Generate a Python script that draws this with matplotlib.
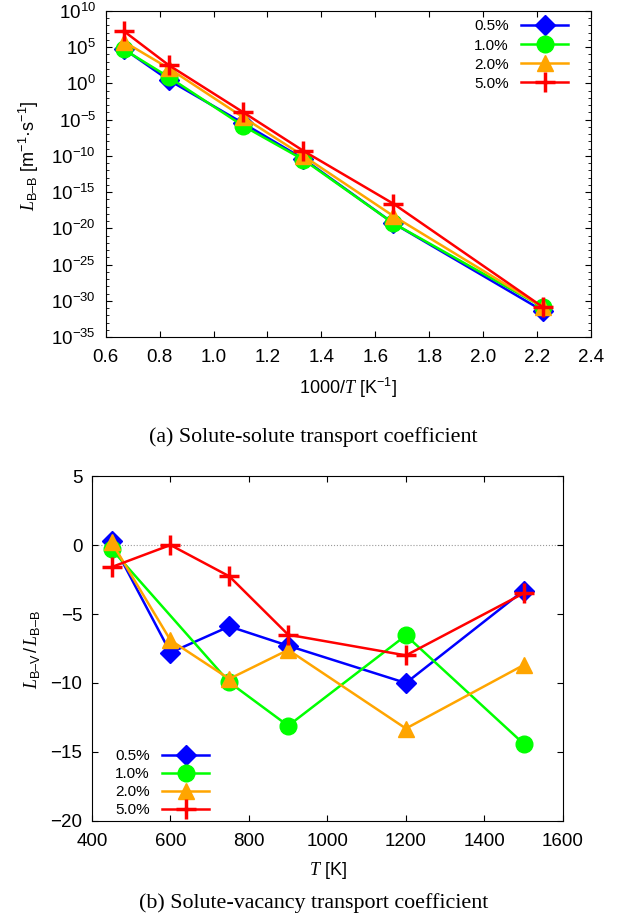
"""Transport coefficients vs temperature, two stacked panels"""
import numpy as np
import matplotlib
matplotlib.use("Agg")
import matplotlib.pyplot as plt
from matplotlib.ticker import FixedLocator, LogFormatterSciNotation, FormatStrFormatter, NullFormatter

plt.rcParams['font.family'] = ['Liberation Sans', 'DejaVu Sans']
plt.rcParams['mathtext.fontset'] = 'custom'
plt.rcParams['mathtext.rm'] = 'Liberation Sans'
plt.rcParams['mathtext.it'] = 'Liberation Serif:italic'
plt.rcParams['mathtext.default'] = 'regular'

labels = ['0.5%', '1.0%', '2.0%', '5.0%']
colors = ['#0000ff', '#00ff00', '#ffa500', '#ff0000']
markers = ['D', 'o', '^', '+']
msizes = [10, 12, 12, 15]

# panel (a): L_B-B vs 1000/T
inv_T = [0.667, 0.833, 1.111, 1.333, 1.667, 2.222]
lbb_05 = [6e4, 3e0, 3e-6, 4e-11, 5e-20, 4e-32]
lbb_10 = [5e4, 8e0, 1.3e-6, 3e-11, 5e-20, 1.3e-31]
lbb_20 = [6e5, 1.3e2, 2e-5, 1e-10, 5e-19, 1.3e-31]
lbb_50 = [1.7e7, 3.5e2, 1e-4, 5e-10, 2.5e-17, 1.3e-31]

# panel (b): L_B-V / L_B-B vs T (1.0% has no point at 600 K)
T_05 = [450, 600, 750, 900, 1200, 1500]
ratio_05 = [0.27, -7.8, -5.9, -7.3, -10.0, -3.3]
T_10 = [450, 750, 900, 1200, 1500]
ratio_10 = [-0.3, -9.95, -13.1, -6.55, -14.4]
T_20 = [450, 600, 750, 900, 1200, 1500]
ratio_20 = [0.2, -6.9, -9.7, -7.6, -13.3, -8.7]
T_50 = [450, 600, 750, 900, 1200, 1500]
ratio_50 = [-1.6, 0.0, -2.27, -6.5, -8.0, -3.5]

fig = plt.figure(figsize=(6.27, 9.17), dpi=100)

# ---- top panel
ax1 = fig.add_axes([0.1686, 0.6325, 0.774, 0.3555])
for y, c, m, ms, lab in zip([lbb_05, lbb_10, lbb_20, lbb_50], colors, markers, msizes, labels):
    ax1.plot(inv_T, y, color=c, marker=m, ms=ms, mew=2.5 if m == '+' else 1,
             lw=1.8, label=lab)
ax1.set_yscale('log')
ax1.set_xlim(0.6, 2.4)
ax1.set_ylim(1e-35, 1e10)
ax1.xaxis.set_major_locator(FixedLocator(np.arange(0.6, 2.41, 0.2)))
ax1.xaxis.set_major_formatter(FormatStrFormatter('%.1f'))
ax1.yaxis.set_major_locator(FixedLocator([10.0**k for k in range(-35, 11, 5)]))
ax1.yaxis.set_minor_locator(FixedLocator([10.0**k for k in range(-35, 11) if k % 5]))
ax1.yaxis.set_major_formatter(LogFormatterSciNotation())
ax1.yaxis.set_minor_formatter(NullFormatter())
ax1.set_xlabel(r'1000/$\mathit{T}$ [K$^{-1}$]', fontsize=13, labelpad=7)
ax1.set_ylabel(r'$\mathit{L}_{\mathrm{B–B}}$ [m$^{-1}$·s$^{-1}$]', fontsize=13)
ax1.yaxis.set_label_coords(-0.134, 0.555)
ax1.legend(loc='upper right', bbox_to_anchor=(0.953, 0.974), frameon=False,
           markerfirst=False, fontsize=11, handlelength=3.1, labelspacing=0.33,
           handletextpad=0.8, borderpad=0, borderaxespad=0)

# ---- bottom panel
ax2 = fig.add_axes([0.1467, 0.1047, 0.751, 0.3762])
ax2.axhline(0, color='#999999', lw=0.8, ls=':', zorder=0)
for x, y, c, m, ms, lab in zip([T_05, T_10, T_20, T_50],
                               [ratio_05, ratio_10, ratio_20, ratio_50],
                               colors, markers, msizes, labels):
    ax2.plot(x, y, color=c, marker=m, ms=ms, mew=2.5 if m == '+' else 1,
             lw=1.8, label=lab)
ax2.set_xlim(400, 1600)
ax2.set_ylim(-20, 5)
ax2.set_xticks(range(400, 1601, 200))
ax2.set_yticks(range(-20, 6, 5))
ax2.set_xlabel(r'$\mathit{T}$ [K]', fontsize=13, labelpad=7)
ax2.set_ylabel(r'$\mathit{L}_{\mathrm{B–V}}\,/\,\mathit{L}_{\mathrm{B–B}}$', fontsize=13)
ax2.yaxis.set_label_coords(-0.106, 0.496)
ax2.legend(loc='lower left', bbox_to_anchor=(0.049, 0.012), frameon=False,
           markerfirst=False, fontsize=11, handlelength=3.1, labelspacing=0.25,
           handletextpad=0.8, borderpad=0, borderaxespad=0)

for ax in (ax1, ax2):
    ax.tick_params(which='both', direction='in', top=True, right=True, labelsize=13.5)
    ax.tick_params(axis='x', which='major', pad=8.5)
    ax.tick_params(axis='y', which='major', pad=7)
    ax.tick_params(which='major', length=4, width=0.8)
    ax.tick_params(which='minor', length=2, width=0.6)

fig.text(0.5, 0.5235, '(a) Solute-solute transport coefficient',
         family='Liberation Serif', fontsize=15.8, ha='center', va='center')
fig.text(0.5, 0.015, '(b) Solute-vacancy transport coefficient',
         family='Liberation Serif', fontsize=15.8, ha='center', va='center')

fig.savefig('out.png', dpi=100)
